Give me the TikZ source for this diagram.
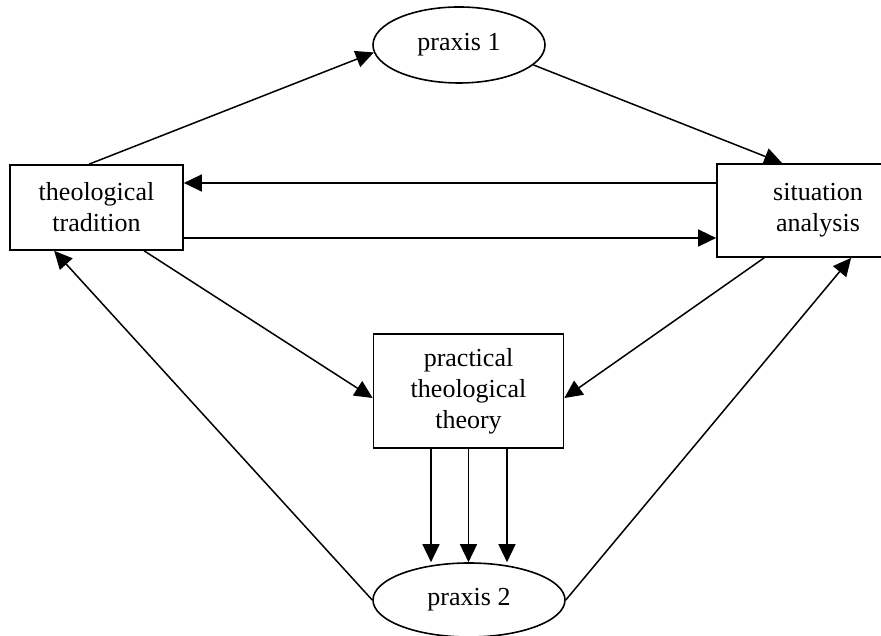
\documentclass[tikz,border=0pt]{standalone}
\usepackage{fontspec}
\setmainfont{Liberation Serif}
\usepackage{tikz}
\usetikzlibrary{positioning,shapes.geometric,arrows.meta}

\begin{document}
\begin{tikzpicture}[x=1pt,y=1pt,
    box/.style={draw, line width=1.7pt, inner sep=0pt, align=center, font=\fontsize{26}{31}\selectfont},
    oval/.style={ellipse, draw, line width=1.6pt, inner sep=0pt, font=\fontsize{26}{31}\selectfont},
    arr/.style={line width=1.5pt, -{Triangle[length=18pt,width=17pt]}}]
    \useasboundingbox (0,0) rectangle (881,636);
    \clip (0,0) rectangle (881,636);
    \node[oval, minimum width=172pt, minimum height=76pt] (praxisA) at (459,591) {praxis 1};
    \node[box, minimum width=173pt, minimum height=85pt] (tradition) at (96.5,428.5) {theological\\tradition};
    \node[box, minimum width=202pt, minimum height=93pt] (situation) at (818,425.5) {situation\\analysis};
    \node[box, minimum width=190pt, minimum height=114pt] (theory) at (468.5,245) {practical\\theological\\theory};
    \node[oval, minimum width=192pt, minimum height=74pt] (praxisB) at (469,36) {praxis 2};
    \coordinate (upR) at ([yshift=27.5pt]situation.west);
    \coordinate (upL) at (upR -| tradition.east);
    \coordinate (loL) at ([yshift=-30.5pt]tradition.east);
    \coordinate (loR) at (loL -| situation.west);
    \draw[arr] ([xshift=80pt]tradition.north west) -- (praxisA.185);
    \draw[arr] (praxisA.345) -- ([xshift=66pt]situation.north west);
    \draw[arr] (upR) -- (upL);
    \draw[arr] (loL) -- (loR);
    \draw[arr] ([xshift=135pt]tradition.south west) -- ([yshift=-7pt]theory.west);
    \draw[arr] ([xshift=48pt]situation.south west) -- ([yshift=-7pt]theory.east);
    \foreach \dx in {-37.5,0,38.5}
        \draw[arr] ([xshift=\dx pt]theory.south) -- ([xshift=\dx pt]theory.south |- praxisB.north);
    \draw[arr] (praxisB.west) -- ([xshift=45pt]tradition.south west);
    \draw[arr] (praxisB.east) -- ([xshift=135pt]situation.south west);
\end{tikzpicture}
\end{document}
